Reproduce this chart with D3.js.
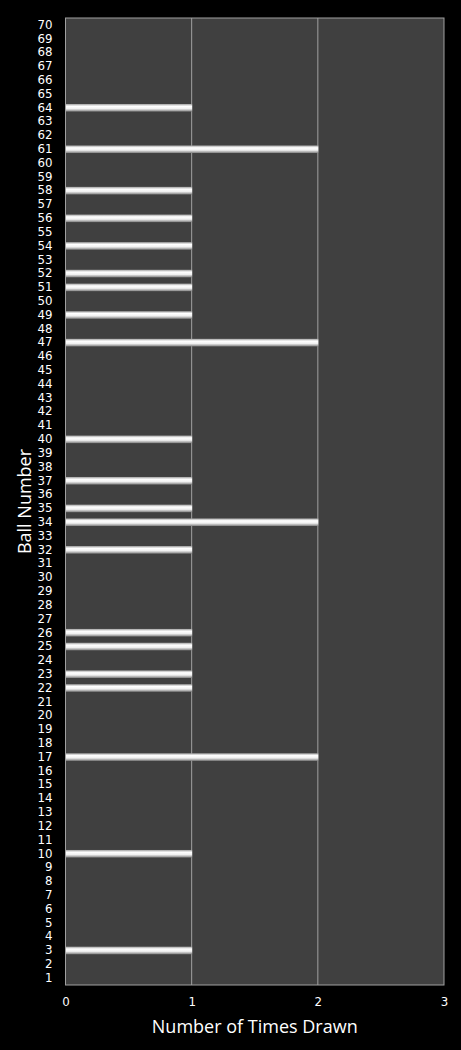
<!DOCTYPE html>
<html>
<head>
<meta charset="utf-8">
<script src="https://cdn.jsdelivr.net/npm/d3@7"></script>
<style>
  body { margin: 0; background: #000; }
  svg { display: block; }
</style>
</head>
<body>
<div id="chart"></div>
<script>
// ball numbers 1..70, and how often each one was drawn
const balls = d3.range(1, 71);
const drawn = {3: 1, 10: 1, 17: 2, 22: 1, 23: 1, 25: 1, 26: 1, 32: 1, 34: 2, 35: 1, 37: 1, 40: 1,
  47: 2, 49: 1, 51: 1, 52: 1, 54: 1, 56: 1, 58: 1, 61: 2, 64: 1};
const counts = balls.map(b => drawn[b] || 0);
const xTicks = [0, 1, 2, 3];

const width = 461, height = 1050;
const margin = {top: 18, right: 17, bottom: 65, left: 65.5};
const font = "'Open Sans', 'DejaVu Sans', sans-serif";
const tickFont = "'DejaVu Sans', sans-serif";

const svg = d3.select("#chart").append("svg")
  .attr("width", width)
  .attr("height", height)
  .style("font-family", font);

svg.append("rect").attr("width", width).attr("height", height).attr("fill", "#000");

const x = d3.scaleLinear()
  .domain([0, 3])
  .range([margin.left, width - margin.right]);

const y = d3.scaleBand()
  .domain(balls)
  .range([height - margin.bottom, margin.top])
  .paddingInner(0.45)
  .paddingOuter(0.225);

// bar gradient (rounded tube look)
const defs = svg.append("defs");
const grad = defs.append("linearGradient")
  .attr("id", "tube").attr("x1", 0).attr("y1", 0).attr("x2", 0).attr("y2", 1);
[[0, "#a0a0a0"], [0.3, "#ffffff"], [0.62, "#f0f0f0"], [1, "#808080"]].forEach(s =>
  grad.append("stop").attr("offset", s[0]).attr("stop-color", s[1]));

// plot area
svg.append("rect")
  .attr("x", x(0))
  .attr("y", margin.top)
  .attr("width", x(3) - x(0))
  .attr("height", height - margin.bottom - margin.top)
  .attr("fill", "#404040")
  .attr("stroke", "#a0a0a0")
  .attr("stroke-width", 1);

// vertical gridlines
svg.append("g")
  .selectAll("line")
  .data(xTicks.slice(1, 3))
  .enter().append("line")
  .attr("x1", d => x(d)).attr("x2", d => x(d))
  .attr("y1", margin.top).attr("y2", height - margin.bottom)
  .attr("stroke", "#a0a0a0")
  .attr("stroke-width", 1);

// bars
svg.append("g")
  .selectAll("rect")
  .data(balls.filter((b, i) => counts[i] > 0))
  .enter().append("rect")
  .attr("x", x(0) + 0.5)
  .attr("y", d => y(d))
  .attr("width", d => x(drawn[d]) - x(0))
  .attr("height", y.bandwidth())
  .attr("fill", "url(#tube)");

// y axis labels
svg.append("g")
  .attr("transform", `translate(${margin.left},0)`)
  .call(d3.axisLeft(y).tickSize(0).tickPadding(13))
  .call(g => g.select(".domain").remove())
  .call(g => g.selectAll("text")
    .attr("fill", "#fff")
    .attr("font-size", 11.8)
    .attr("font-family", tickFont));

// x axis labels
svg.append("g")
  .attr("transform", `translate(0,${height - margin.bottom})`)
  .call(d3.axisBottom(x).tickValues(xTicks).tickFormat(d3.format("d")).tickSize(0).tickPadding(13))
  .call(g => g.select(".domain").remove())
  .call(g => g.selectAll("text")
    .attr("fill", "#fff")
    .attr("font-size", 11.8)
    .attr("font-family", tickFont));

// axis titles
svg.append("text")
  .attr("x", (x(0) + x(3)) / 2)
  .attr("y", 1033)
  .attr("text-anchor", "middle")
  .attr("fill", "#fff")
  .attr("font-size", 18)
  .text("Number of Times Drawn");

svg.append("text")
  .attr("transform", `translate(31,${(margin.top + height - margin.bottom) / 2}) rotate(-90)`)
  .attr("text-anchor", "middle")
  .attr("fill", "#fff")
  .attr("font-size", 18)
  .text("Ball Number");
</script>
</body>
</html>
